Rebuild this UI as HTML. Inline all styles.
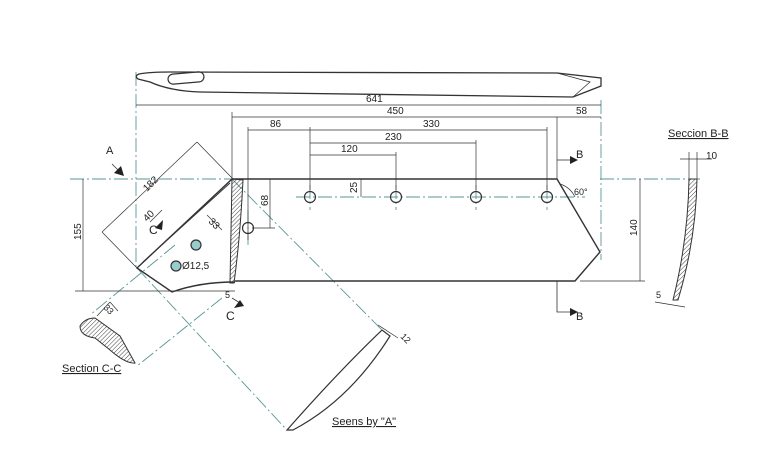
<!DOCTYPE html>
<html><head><style>html,body{margin:0;padding:0;background:#fff}svg{display:block}</style></head>
<body>
<svg width="775" height="459" viewBox="0 0 775 459" xmlns="http://www.w3.org/2000/svg" font-family="Liberation Sans Narrow, Liberation Sans, sans-serif" font-size="10" fill="none" stroke="#333" stroke-width="1">
<defs>
<pattern id="h" width="3" height="3" patternUnits="userSpaceOnUse" patternTransform="rotate(45)"><line x1="0" y1="0" x2="0" y2="3" stroke="#444" stroke-width="1"/></pattern>
</defs>
<g stroke="#5a9696" stroke-width="0.9" stroke-dasharray="14,3,2,3">
<line x1="136" y1="72" x2="136" y2="270"/>
<line x1="70" y1="179" x2="232" y2="179"/>
<line x1="600" y1="179" x2="700" y2="179"/>
<line x1="296" y1="197" x2="585" y2="197"/>
<line x1="601" y1="100" x2="601" y2="260"/>
<line x1="232" y1="179" x2="382" y2="330"/>
<line x1="137" y1="268" x2="285" y2="428"/>
<line x1="175" y1="245" x2="90" y2="315"/>
<line x1="222" y1="298" x2="137" y2="366"/>
<line x1="248" y1="210" x2="248" y2="245"/>
<line x1="310" y1="185" x2="310" y2="210"/>
<line x1="396" y1="185" x2="396" y2="210"/>
<line x1="476" y1="185" x2="476" y2="210"/>
<line x1="547" y1="185" x2="547" y2="210"/>
</g>
<path d="M139,74 Q150,72 170,72 L557,73 L601,78 L601,86 L573,97 L200,92 Q170,91 150,82 L138,79 Q134,76 139,74 Z" stroke-width="1.3"/>
<path d="M557,73 L590,82 L573,97" stroke-width="0.8"/>
<rect x="168" y="73" width="36" height="10" rx="5" transform="rotate(-5 186 78)" stroke-width="1.2"/>
<g stroke-width="0.7">
<line x1="136" y1="105" x2="601" y2="105"/>
<line x1="232" y1="117" x2="601" y2="117"/>
<line x1="557" y1="117" x2="557" y2="179"/>
<line x1="232" y1="112" x2="232" y2="179"/>
<line x1="248" y1="130" x2="310" y2="130"/>
<line x1="310" y1="130" x2="547" y2="130"/>
<line x1="248" y1="127" x2="248" y2="240"/>
<line x1="310" y1="127" x2="310" y2="190"/>
<line x1="547" y1="127" x2="547" y2="190"/>
<line x1="310" y1="143" x2="476" y2="143"/>
<line x1="476" y1="140" x2="476" y2="190"/>
<line x1="310" y1="155" x2="396" y2="155"/>
<line x1="396" y1="152" x2="396" y2="190"/>
<line x1="83" y1="179" x2="83" y2="291"/>
<line x1="75" y1="291" x2="235" y2="291"/>
<line x1="640" y1="179" x2="640" y2="281"/>
<line x1="580" y1="281" x2="645" y2="281"/>
<line x1="270" y1="179" x2="270" y2="228"/>
<line x1="252" y1="228" x2="275" y2="228"/>
<line x1="361" y1="179" x2="361" y2="197"/>
<line x1="102" y1="232" x2="197" y2="142"/>
<line x1="197" y1="142" x2="233" y2="179"/>
<line x1="102" y1="232" x2="137" y2="268"/>
<line x1="150" y1="222" x2="162" y2="210"/>
<line x1="207" y1="215" x2="222" y2="230"/>
</g>
<g fill="#222" stroke="none" font-size="10">
<text x="366" y="102">641</text>
<text x="387" y="114">450</text>
<text x="576" y="114">58</text>
<text x="270" y="127">86</text>
<text x="423" y="127">330</text>
<text x="385" y="140">230</text>
<text x="341" y="152">120</text>
<text transform="translate(81,240) rotate(-90)">155</text>
<text transform="translate(637,236) rotate(-90)">140</text>
<text transform="translate(268,206) rotate(-90)">68</text>
<text transform="translate(357,193) rotate(-90)">25</text>
<text transform="translate(147,192) rotate(-45)">182</text>
<text transform="translate(147,222) rotate(-45)">40</text>
<text transform="translate(208,222) rotate(45)">33</text>
<text x="182" y="269">Ø12,5</text>
<text x="574" y="195" font-size="9">60°</text>
<text x="225" y="298" font-size="9">5</text>
<text x="706" y="159">10</text>
<text x="656" y="298" font-size="9">5</text>
<text transform="translate(103,308) rotate(45)" font-size="9">33</text>
<text transform="translate(400,337) rotate(45)" font-size="9">12</text>
<text x="106" y="154" font-size="11">A</text>
<text x="576" y="158" font-size="11">B</text>
<text x="576" y="320" font-size="11">B</text>
<text x="226" y="320" font-size="12">C</text>
<text x="149" y="234" font-size="12">C</text>
<text x="668" y="137" font-size="11" text-decoration="underline">Seccion B-B</text>
<text x="62" y="372" font-size="11" text-decoration="underline">Section C-C</text>
<text x="332" y="425" font-size="11" text-decoration="underline">Seens by "A"</text>
</g>
<path d="M232,179 L557,179 L600,252 L575,281 L235,281" stroke-width="1.4"/>
<path d="M232,179 L137,268 L172,292 Q200,282 235,282" stroke-width="1.4"/>
<path d="M230,183 L143,262" stroke-width="1"/>
<path d="M232,179 L243,180 Q240,240 234,283 L230,283 Z" fill="url(#h)" stroke-width="1"/>
<g stroke-width="1.2">
<circle cx="310" cy="197" r="5.5"/><circle cx="396" cy="197" r="5.5"/><circle cx="476" cy="197" r="5.5"/><circle cx="547" cy="197" r="5.5"/><circle cx="248" cy="228" r="5.5"/>
<circle cx="196" cy="245" r="5" fill="#9cc"/><circle cx="176" cy="266" r="5" fill="#9cc"/>
</g>
<path d="M560,184 A25,25 0 0 1 575,197" stroke-width="0.7"/>
<g stroke-width="0.8">
<line x1="112" y1="164" x2="120" y2="172"/>
<line x1="557" y1="160" x2="570" y2="160"/>
<path d="M557,281 L557,312 L570,312"/>
<line x1="232" y1="298" x2="240" y2="303"/>
</g>
<g fill="#222" stroke="none">
<path d="M124,176 L114,173 L121,166 Z"/>
<path d="M570,156 L578,160 L570,164 Z"/>
<path d="M570,308 L578,312 L570,316 Z"/>
<path d="M240,300 L244,306 L234,308 Z"/>
<path d="M155,228 L163,220 L162,230 Z"/>
</g>
<path d="M689,179 L697,179 Q696,240 678,300 L673,300 Q688,240 689,179 Z" fill="url(#h)" stroke-width="1"/>
<g stroke-width="0.7"><line x1="680" y1="159" x2="712" y2="159"/><line x1="689" y1="152" x2="689" y2="179"/><line x1="697" y1="152" x2="697" y2="179"/><line x1="655" y1="302" x2="685" y2="307"/></g>
<path d="M80,326 Q85,318 95,318 L120,336 L135,363 Q126,364 110,350 L95,338 Q80,336 80,326 Z" fill="url(#h)" stroke-width="1"/>
<g stroke-width="0.7"><line x1="97" y1="316" x2="110" y2="302"/><line x1="110" y1="302" x2="118" y2="311"/></g>
<path d="M287,430 Q340,370 382,330 L390,336 Q350,400 293,430 Z" stroke-width="1.2"/>
<g stroke-width="0.7"><line x1="378" y1="325" x2="398" y2="338"/></g>
</svg>
</body></html>
